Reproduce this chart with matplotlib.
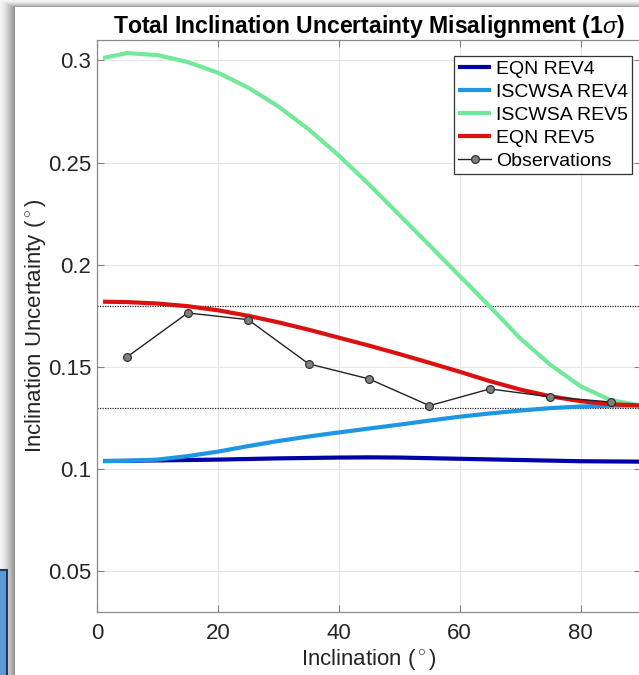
import numpy as np
import matplotlib
matplotlib.use("Agg")
from matplotlib import pyplot as plt
from matplotlib.patches import Rectangle

plt.rcParams['font.family'] = ['Liberation Sans', 'DejaVu Sans']
plt.rcParams['mathtext.fontset'] = 'custom'
plt.rcParams['mathtext.rm'] = 'Liberation Sans'
plt.rcParams['mathtext.it'] = 'Liberation Sans:italic'

# inclination (deg) where the model curves were read
incl = [1, 5, 10, 15, 20, 25, 30, 35, 40, 45, 50, 55, 60, 65, 70, 75, 80, 85, 90]

eqn_rev4 = [0.1039, 0.1040, 0.1042, 0.1044, 0.1046, 0.1049, 0.1052, 0.1054, 0.1056, 0.1057,
            0.1056, 0.1053, 0.1050, 0.1047, 0.1044, 0.1041, 0.1038, 0.1037, 0.1036]
iscwsa_rev4 = [0.1039, 0.1040, 0.1046, 0.1063, 0.1085, 0.1112, 0.1137, 0.1159, 0.1179, 0.1198,
               0.1217, 0.1237, 0.1256, 0.1272, 0.1286, 0.1298, 0.1306, 0.1310, 0.1311]
iscwsa_rev5 = [0.3012, 0.3036, 0.3026, 0.2992, 0.2940, 0.2867, 0.2775, 0.2663, 0.2535, 0.2393,
               0.2244, 0.2095, 0.1945, 0.1795, 0.1640, 0.1510, 0.1405, 0.1337, 0.1311]
eqn_rev5 = [0.1819, 0.1817, 0.1810, 0.1797, 0.1777, 0.1750, 0.1718, 0.1682, 0.1643, 0.1604,
            0.1563, 0.1520, 0.1476, 0.1430, 0.1389, 0.1356, 0.1332, 0.1317, 0.1311]

obs_incl = [5, 15, 25, 35, 45, 55, 65, 75, 85]
obs_vals = [0.1549, 0.1764, 0.1731, 0.1515, 0.1441, 0.1310, 0.1392, 0.1353, 0.1328]

# reference levels (dotted)
ref_levels = [0.18, 0.13]

xticks = [0, 20, 40, 60, 80]
yticks = [0.05, 0.1, 0.15, 0.2, 0.25, 0.3]
ytick_labels = ['0.05', '0.1', '0.15', '0.2', '0.25', '0.3']

W, H = 639, 675
fig = plt.figure(figsize=(W / 100, H / 100), dpi=100)
fig.patch.set_facecolor('white')

# slide-like drop shadow behind the white panel
bg = fig.add_axes([0, 0, 1, 1], zorder=-10)
bg.set_axis_off()
shade = np.ones((H, W))
left = np.clip(np.arange(15) / 14.0, 0, 1)
top = np.clip(np.arange(7) / 6.0, 0, 1)
for i in range(15):
    shade[:, i] = 0.96 - 0.38 * left[i] ** 1.4
for j in range(7):
    shade[j, 15:] = 0.96 - 0.30 * top[j] ** 1.5
    shade[j, :15] = np.maximum(shade[j, :15], 0.96 - 0.30 * top[j] ** 1.5)
bg.imshow(np.dstack([shade] * 3), extent=[0, W, H, 0], aspect='auto', interpolation='bilinear')
bg.set_xlim(0, W)
bg.set_ylim(H, 0)
bg.add_patch(Rectangle((-5, 570), 12, 110, facecolor='#5b9bd5', edgecolor='#1f3a5f', lw=1.5))

ax = fig.add_axes([97 / W, 1 - 612 / H, 544 / W, 572 / H])
ax.set_facecolor('white')

ax.grid(True, color='#e6e6e6', lw=0.8, zorder=0)
for lvl in ref_levels:
    ax.axhline(lvl, color='#222222', lw=0.9, dashes=(1, 1), zorder=2)

style = dict(lw=3, zorder=3, solid_joinstyle='round', solid_capstyle='butt')
ax.plot(incl, eqn_rev4, color='#0000a8', label='EQN REV4', **style)
ax.plot(incl, iscwsa_rev4, color='#1e96e6', label='ISCWSA REV4', **style)
ax.plot(incl, iscwsa_rev5, color='#72e89a', label='ISCWSA REV5', **style)
ax.plot(incl, eqn_rev5, color='#dd1010', label='EQN REV5', **style)
ax.plot(obs_incl, obs_vals, color='#222222', lw=1, marker='o', markersize=5.6,
        markerfacecolor='#808080', markeredgecolor='#333333', markeredgewidth=0.9,
        label='Observations', zorder=4)

ax.set_xlim(0, 90)
ax.set_ylim(0.03, 0.31)
ax.set_xticks(xticks)
ax.set_yticks(yticks)
ax.set_yticklabels(ytick_labels)
ax.tick_params(direction='in', length=5, width=0.8, colors='#808080', labelcolor='#262626',
               labelsize=16, top=True, right=True)
ax.tick_params(axis='x', pad=8)
ax.tick_params(axis='y', pad=4)
for s in ax.spines.values():
    s.set_color('#8a8a8a')
    s.set_linewidth(0.9)

ax.set_xlabel(r'Inclination ($^\circ$)', fontsize=16, color='#262626', labelpad=2)
ax.set_ylabel(r'Inclination Uncertainty ($^\circ$)', fontsize=16, color='#262626', labelpad=0)
ax.set_title(r'Total Inclination Uncertainty Misalignment (1$\sigma$)', fontsize=16.6,
             fontweight='bold', pad=5)

leg = ax.legend(loc='upper right', bbox_to_anchor=(0.9834, 0.972), borderaxespad=0,
                fontsize=14, fancybox=False, framealpha=1, edgecolor='#333333',
                handlelength=1.7, handletextpad=0.25, labelspacing=0.28, borderpad=0.2)
leg.get_frame().set_linewidth(0.9)

fig.savefig('out.png', dpi=100)
